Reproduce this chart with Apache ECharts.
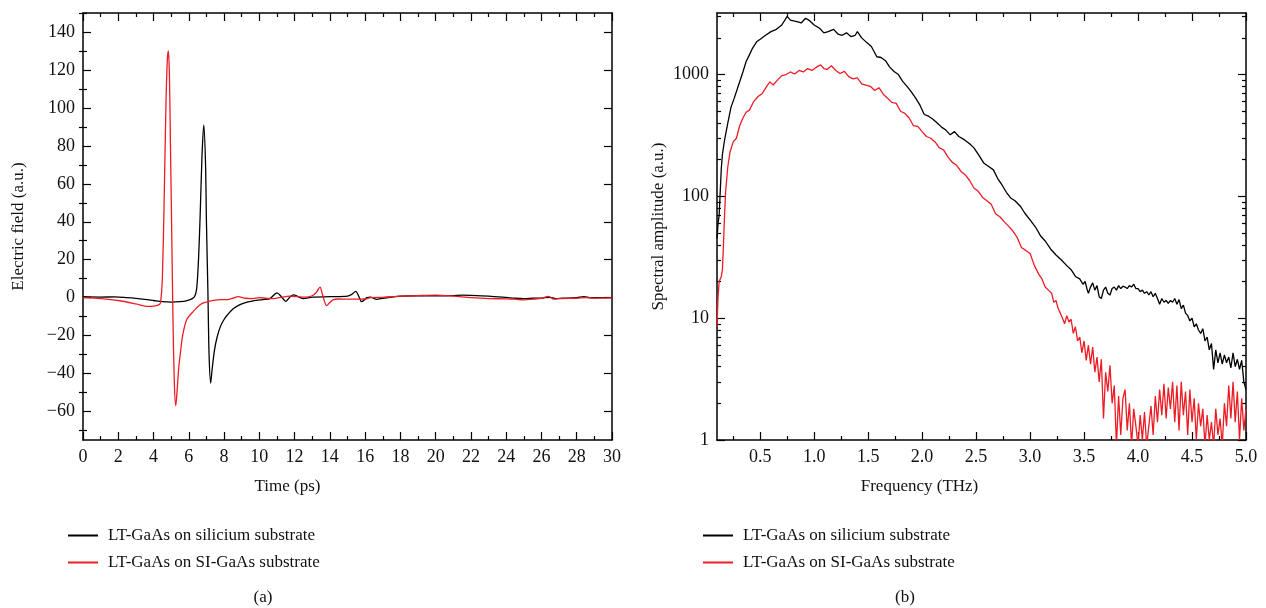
<!DOCTYPE html>
<html>
<head>
<meta charset="utf-8">
<script src="https://cdn.jsdelivr.net/npm/echarts@6/dist/echarts.min.js"></script>
<style>
html,body{margin:0;padding:0;background:#fff;}
#chart{width:1266px;height:608px;}
</style>
</head>
<body>
<div id="chart"></div>
<script>
// series names
var nameSi = 'LT-GaAs on silicium substrate';
var nameSiGaAs = 'LT-GaAs on SI-GaAs substrate';

// (a) time domain, black = silicium
var timeBlack = [0,1,1.8,2.5,3,3.5,4,4.5,5,5.5,5.9,6.2,6.35,6.45,6.55,6.65,6.75,6.85,6.95,7.0,7.08,7.15,7.24,7.32,7.45,7.6,7.8,8.0,8.2,8.5,8.9,9.3,9.7,10.2,10.6,11.0,11.25,11.5,11.7,11.95,12.2,12.5,13,14,15,15.25,15.47,15.65,15.8,16.1,16.3,16.66,17,17.5,18,19,20,21,21.5,22,23,24,24.5,25,25.5,26,26.5,26.8,27.2,28,28.4,28.8,29.3,30];
var fieldBlack = [0.5,0.3,0.4,0,-0.4,-0.9,-1.5,-2.1,-2.3,-2.1,-1.5,-0.5,1,5,20,45,75,91,70,40,5,-30,-45,-38,-28,-21,-15,-11.5,-9,-6,-3.7,-2.3,-1.6,-1,-0.5,2.5,0.5,-2,0,1.5,0.5,-0.5,0.3,0.5,0.8,1.8,3.3,0.5,-2.1,0,0.3,-0.9,-0.3,0.3,0.8,1,1,1.1,1.3,1.2,0.8,0.1,-0.3,-0.5,-0.3,-0.2,0.2,-0.5,-0.3,0,0.6,-0.1,0,0];
// (a) time domain, red = SI-GaAs
var timeRed = [0,1,2,3,3.6,4.1,4.35,4.42,4.5,4.6,4.7,4.78,4.84,4.9,4.96,5.03,5.1,5.18,5.26,5.33,5.42,5.5,5.65,5.88,6.26,6.64,7.0,7.39,7.8,8.2,8.5,8.8,9.2,9.6,10,10.4,10.8,11.3,11.7,12.2,12.6,13.0,13.25,13.44,13.6,13.82,14.0,14.2,14.5,15,16,16.3,17,18,19,20,21,22,23,24,24.5,25,25.5,26,26.4,26.7,27,28,28.5,29,30];
var fieldRed = [0,-0.5,-1.5,-3.3,-4.6,-4.3,-3.5,-1,10,50,100,125,130,118,80,36,-10,-45,-57,-50,-38,-31,-20,-11.6,-7.2,-3.7,-2.3,-1.4,-1,-1,-0.3,0.5,-0.3,-0.5,0,-0.3,-0.5,0.3,0.8,0.5,0.3,1,3,5.6,1,-4.2,-2.5,-1,-0.7,-0.8,-0.7,0,0.2,0.8,1.1,1.3,0.8,0,-0.5,-0.6,-0.8,-1.2,-0.8,-0.4,0.7,-0.8,-0.5,-0.3,0,-0.2,-0.1];

// (b) spectra, black = silicium
var freqBlack = [0.10,0.11,0.12,0.13,0.14,0.15,0.17,0.20,0.23,0.26,0.30,0.34,0.37,0.40,0.43,0.47,0.50,0.55,0.60,0.65,0.70,0.75,0.78,0.82,0.85,0.88,0.92,0.95,1.00,1.05,1.09,1.13,1.18,1.22,1.26,1.30,1.34,1.38,1.40,1.44,1.49,1.53,1.58,1.62,1.66,1.70,1.74,1.78,1.82,1.86,1.90,1.94,1.98,2.02,2.06,2.10,2.14,2.18,2.22,2.26,2.30,2.34,2.39,2.44,2.48,2.53,2.57,2.62,2.66,2.70,2.74,2.78,2.82,2.86,2.91,2.95,3.00,3.05,3.10,3.14,3.19,3.24,3.29,3.34,3.38,3.42,3.46,3.49,
  3.51,3.53,3.54,3.56,3.58,3.60,3.62,3.64,3.66,3.68,3.70,3.72,3.74,3.76,3.78,3.80,3.82,3.84,3.86,3.88,3.90,3.92,3.94,3.96,3.98,4.00,4.02,4.04,4.06,4.08,4.10,4.12,4.14,4.16,4.18,4.20,4.22,4.24,4.26,4.28,4.30,4.32,4.34,4.36,4.38,4.40,4.42,4.44,4.46,4.48,4.50,4.52,4.54,4.56,4.58,4.60,4.62,4.64,4.66,4.68,4.70,4.72,4.74,4.76,4.78,4.80,4.82,4.84,4.86,4.88,4.90,4.92,4.94,4.96,4.98,5.00];
var ampBlack = [45,60,70,110,170,220,290,400,540,640,820,1050,1280,1450,1650,1870,1950,2100,2250,2350,2550,3000,2800,2750,2700,2650,2900,2800,2550,2400,2200,2250,2350,2150,2100,2200,2050,2100,2250,2000,1820,1700,1400,1380,1300,1150,1060,1000,880,800,720,640,560,470,455,430,400,370,350,320,340,310,292,270,250,215,188,175,165,140,124,108,97,92,83,73,64,56,47,43,37,33,30,27,25,22,21,19,
  20,17,16,18,19.5,17,18.5,15,14.5,17,18,16,15.5,17.5,18,17,18.5,17.5,18.3,18,17.5,18.5,18,19,17.5,17.5,16.5,17,16,16.5,15.5,16.5,15,16,14.5,13,14.5,13.5,14,13.2,14,13.5,14.5,13,14.2,12,12.8,11,10.5,9.5,10,8.5,9,8,7.5,8.2,6.5,7,5.5,6.2,3.8,5.5,4.3,5.2,4.2,5.0,4.3,4.8,3.9,5.2,4.0,4.6,3.8,4.5,3.0,2.6];
// (b) spectra, red = SI-GaAs
var freqRed = [0.10,0.11,0.12,0.14,0.15,0.16,0.17,0.18,0.20,0.22,0.25,0.28,0.31,0.34,0.37,0.40,0.44,0.48,0.52,0.56,0.59,0.62,0.66,0.70,0.74,0.78,0.82,0.86,0.90,0.94,0.98,1.02,1.06,1.09,1.12,1.16,1.20,1.24,1.28,1.32,1.36,1.40,1.44,1.48,1.52,1.56,1.60,1.64,1.68,1.72,1.76,1.80,1.84,1.88,1.92,1.96,2.00,2.04,2.08,2.12,2.16,2.20,2.24,2.28,2.32,2.36,2.40,2.44,2.48,2.52,2.56,2.60,2.64,2.68,2.72,2.76,2.80,2.84,2.88,2.92,2.96,3.00,3.04,3.08,3.11,3.14,3.17,3.20,3.22,3.24,3.26,3.28,3.30,3.32,3.34,3.36,3.38,3.40,3.42,3.44,3.46,3.48,3.50,
  3.52,3.54,3.56,3.58,3.60,3.62,3.64,3.66,3.68,3.70,3.72,3.74,3.76,3.78,3.80,3.82,3.84,3.86,3.88,3.90,3.92,3.94,3.96,3.98,4.00,4.02,4.04,4.06,4.08,4.10,4.12,4.14,4.16,4.18,4.20,4.22,4.24,4.26,4.28,4.30,4.32,4.34,4.36,4.38,4.40,4.42,4.44,4.46,4.48,4.50,4.52,4.54,4.56,4.58,4.60,4.62,4.64,4.66,4.68,4.70,4.72,4.74,4.76,4.78,4.80,4.82,4.84,4.86,4.88,4.90,4.92,4.94,4.96,4.98,5.00];
var ampRed = [8.5,15,20,22,25,40,70,110,175,230,280,300,380,440,490,510,600,660,700,800,870,820,900,980,1000,1050,1010,1080,1050,1120,1080,1150,1200,1120,1100,1180,1080,1020,1060,960,920,940,840,820,800,740,780,690,640,590,580,500,480,440,380,375,340,310,300,280,250,240,210,190,180,160,150,135,117,110,98,92,86,72,68,62,57,52,46,38,36,34,27,23,21,18,17,16,13.5,14,12,11,10,9,10.5,9.3,9.8,7.5,8.5,6.5,7,5.2,6.5,
  4.5,6,4.2,5.8,3.6,4.8,3,4.6,1.5,3.6,2.5,4.1,2,2.8,0.9,2.3,1.1,2.2,2.6,1.2,2.0,0.9,1.8,1.3,0.9,1.6,1.0,1.7,0.9,1.3,1.9,1.1,2.3,1.4,2.6,1.6,2.9,1.5,2.7,1.8,3.0,1.4,2.8,1.2,3.0,1.6,2.5,1.1,2.6,1.4,2.2,1.0,2.0,1.3,1.8,0.9,1.6,1.0,1.4,0.9,1.8,1.1,1.5,0.9,2.0,1.3,2.8,1.5,3.0,1.4,2.5,1.0,2.2,1.2,1.8];

// tick positions
var yTicksA = [-60,-40,-20,0,20,40,60,80,100,120,140];
var yMinorA = [-70,-50,-30,-10,10,30,50,70,90,110,130,150];
var xTicksB = [0.5,1.0,1.5,2.0,2.5,3.0,3.5,4.0,4.5,5.0];
var xMinorB = [0.25,0.75,1.25,1.75,2.25,2.75,3.25,3.75,4.25,4.75];
var yTicksB = [1,10,100,1000];
var yMinorB = [2,3,4,5,6,7,8,9,20,30,40,50,60,70,80,90,200,300,400,500,600,700,800,900,2000,3000];

var FONT = 'Liberation Serif';
var RED = '#ec1c24';
var TICKFS = 18;

function pairs(xs, ys) {
	var out = [];
	for (var i = 0; i < xs.length; i++) out.push([xs[i], ys[i]]);
	return out;
}

function axisBase(extra) {
	var a = {
		axisLine: {show: true, onZero: false, lineStyle: {color: '#000', width: 1.5}},
		axisTick: {show: true, inside: true, length: 8, lineStyle: {color: '#000', width: 1.2}},
		axisLabel: {show: false},
		splitLine: {show: false}
	};
	for (var k in extra) a[k] = extra[k];
	return a;
}

function labelStyle(extra) {
	var l = {show: true, color: '#111', fontFamily: FONT, fontSize: TICKFS, margin: 8};
	for (var k in extra) l[k] = extra[k];
	return l;
}

function tickStyle(len, values) {
	var t = {show: true, inside: true, length: len, lineStyle: {color: '#000', width: 1.2}};
	if (values) t.customValues = values;
	return t;
}

chartDraw('chart');

function chartDraw(id) {
	var chart = echarts.init(document.getElementById(id));
	var minus = function (v) { return String(v).replace('-', '\u2212'); };
	var minorTickA = {show: true, splitNumber: 2, length: 4, lineStyle: {color: '#000', width: 1.2}};
	var nameStyle = function (pad) {
		return {color: '#111', fontFamily: FONT, fontSize: 17, padding: pad};
	};

	var xAxis = [
		// (a) bottom / top
		axisBase({gridIndex: 0, type: 'value', min: 0, max: 30, interval: 2, position: 'bottom',
			axisLabel: labelStyle({}),
			minorTick: minorTickA,
			name: 'Time (ps)', nameLocation: 'middle', nameGap: 38, nameTextStyle: nameStyle([0, 120, 0, 0])}),
		axisBase({gridIndex: 0, type: 'value', min: 0, max: 30, interval: 2, position: 'top', minorTick: minorTickA}),
		// (b) bottom majors, bottom minors, top majors, top minors
		axisBase({gridIndex: 1, type: 'value', min: 0.1, max: 5.0, position: 'bottom',
			axisTick: tickStyle(8, xTicksB),
			axisLabel: labelStyle({customValues: xTicksB, formatter: function (v) { return v.toFixed(1); }}),
			name: 'Frequency (THz)', nameLocation: 'middle', nameGap: 38, nameTextStyle: nameStyle([0, 124, 0, 0])}),
		axisBase({gridIndex: 1, type: 'value', min: 0.1, max: 5.0, position: 'bottom', axisLine: {show: false},
			axisTick: tickStyle(4, xMinorB)}),
		axisBase({gridIndex: 1, type: 'value', min: 0.1, max: 5.0, position: 'top', axisTick: tickStyle(8, xTicksB)}),
		axisBase({gridIndex: 1, type: 'value', min: 0.1, max: 5.0, position: 'top', axisLine: {show: false},
			axisTick: tickStyle(4, xMinorB)})
	];

	var yAxis = [
		// (a)
		axisBase({gridIndex: 0, type: 'value', min: -75, max: 150, position: 'left',
			axisTick: tickStyle(8, yTicksA),
			axisLabel: labelStyle({customValues: yTicksA, formatter: minus}),
			name: 'Electric field (a.u.)', nameLocation: 'middle', nameGap: 56, nameTextStyle: nameStyle(0)}),
		axisBase({gridIndex: 0, type: 'value', min: -75, max: 150, position: 'left', axisLine: {show: false},
			axisTick: tickStyle(4, yMinorA)}),
		axisBase({gridIndex: 0, type: 'value', min: -75, max: 150, position: 'right', axisTick: tickStyle(8, yTicksA)}),
		axisBase({gridIndex: 0, type: 'value', min: -75, max: 150, position: 'right', axisLine: {show: false},
			axisTick: tickStyle(4, yMinorA)}),
		// (b) log
		axisBase({gridIndex: 1, type: 'log', logBase: 10, min: 1, max: 3200, position: 'left',
			axisTick: tickStyle(8, yTicksB),
			axisLabel: labelStyle({customValues: yTicksB, formatter: function (v) { return String(Math.round(v)); }}),
			name: 'Spectral amplitude (a.u.)', nameLocation: 'middle', nameGap: 50, nameTextStyle: nameStyle(0)}),
		axisBase({gridIndex: 1, type: 'log', logBase: 10, min: 1, max: 3200, position: 'left', axisLine: {show: false},
			axisTick: tickStyle(4, yMinorB)}),
		axisBase({gridIndex: 1, type: 'log', logBase: 10, min: 1, max: 3200, position: 'right', axisTick: tickStyle(8, yTicksB)}),
		axisBase({gridIndex: 1, type: 'log', logBase: 10, min: 1, max: 3200, position: 'right', axisLine: {show: false},
			axisTick: tickStyle(4, yMinorB)})
	];

	function line(name, xi, yi, color, data, smooth) {
		return {type: 'line', name: name, xAxisIndex: xi, yAxisIndex: yi, data: data, smooth: smooth,
			showSymbol: false, symbol: 'none', clip: true, animation: false,
			lineStyle: {color: color, width: 1.3}, itemStyle: {color: color}};
	}

	function legendAt(left) {
		return {
			left: left, top: 527, padding: 0, orient: 'vertical', icon: 'rect', itemWidth: 30, itemHeight: 2, itemGap: 10,
			textStyle: {color: '#111', fontFamily: FONT, fontSize: 17, lineHeight: 17, padding: [0, 0, 0, 5]},
			data: [nameSi, nameSiGaAs]
		};
	}

	var option = {
		backgroundColor: '#fff',
		animation: false,
		grid: [
			{left: 83, top: 13, width: 529, height: 427, outerBoundsMode: 'none'},
			{left: 717, top: 13, width: 529, height: 427, outerBoundsMode: 'none'}
		],
		xAxis: xAxis,
		yAxis: yAxis,
		legend: [legendAt(68), legendAt(703)],
		graphic: [
			{type: 'text', x: 263, y: 598, style: {text: '(a)', align: 'center', verticalAlign: 'middle', font: '17px "Liberation Serif"', fill: '#111'}},
			{type: 'text', x: 905, y: 598, style: {text: '(b)', align: 'center', verticalAlign: 'middle', font: '17px "Liberation Serif"', fill: '#111'}}
		],
		series: [
			line(nameSi, 0, 0, '#000', pairs(timeBlack, fieldBlack), 0.3),
			line(nameSiGaAs, 0, 0, RED, pairs(timeRed, fieldRed), 0.3),
			line(nameSi, 2, 4, '#000', pairs(freqBlack, ampBlack), false),
			line(nameSiGaAs, 2, 4, RED, pairs(freqRed, ampRed), false)
		]
	};
	chart.setOption(option);
}
</script>
</body>
</html>
